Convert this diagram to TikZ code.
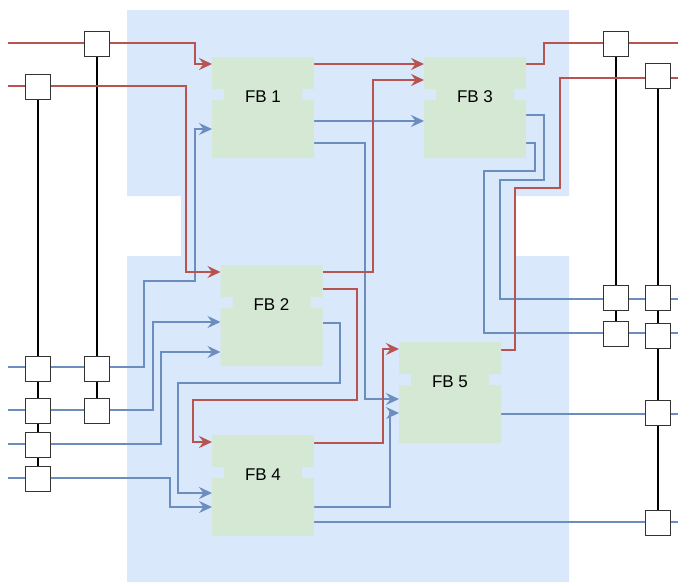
\documentclass[tikz,border=0pt]{standalone}
\usepackage{fontspec}
\setmainfont{Liberation Sans}
\usetikzlibrary{arrows.meta}
\definecolor{regionblue}{HTML}{DAE8FC}
\definecolor{fbgreen}{HTML}{D5E8D4}
\definecolor{wirered}{HTML}{B85450}
\definecolor{wireblue}{HTML}{6C8EBF}
\pgfdeclarelayer{bgfill}
\pgfdeclarelayer{wires}
\pgfsetlayers{bgfill,wires,main}
\tikzset{
  fbbox/.style={rectangle, minimum width=102pt, minimum height=101pt, inner sep=0pt, outer sep=0pt},
  fblabel/.style={inner sep=0pt, font=\fontsize{17}{20}\selectfont},
  sq/.style={rectangle, draw=black!80, fill=white, line width=1.2pt, minimum size=25pt, inner sep=0pt, outer sep=0pt},
  bus/.style={draw=black, line width=2.4pt},
  redw/.style={draw=wirered, line width=2.3pt},
  bluew/.style={draw=wireblue, line width=2.3pt},
  arr/.style={-{Stealth[length=13pt, width=12pt, inset=4.5pt]}},
}
\newcommand{\fbshape}[1]{%
  \fill[fbgreen] (#1.north west) -- ++(102,0) -- ++(0,32) -- ++(-12,0) -- ++(0,11) -- ++(12,0)
    -- (#1.south east) -- (#1.south west) -- ++(0,-58) -- ++(12,0) -- ++(0,-11) -- ++(-12,0) -- cycle;}
\begin{document}
\begin{tikzpicture}[x=1pt, y=-1pt]
\useasboundingbox (0,0) rectangle (678,582);
\begin{pgfonlayer}{bgfill}
  \fill[regionblue] (127,10) -- (569,10) -- (569,196) -- (516,196) -- (516,256) -- (569,256)
    -- (569,582) -- (127,582) -- (127,256) -- (181,256) -- (181,196) -- (127,196) -- cycle;
\end{pgfonlayer}

% function blocks
\node[fbbox] (fb1) at (263,107.5) {};
\node[fbbox] (fb2) at (271.5,315.5) {};
\node[fbbox] (fb3) at (475,107.5) {};
\node[fbbox] (fb4) at (263,485.5) {};
\node[fbbox] (fb5) at (450,392.5) {};
\fbshape{fb1}\fbshape{fb2}\fbshape{fb3}\fbshape{fb4}\fbshape{fb5}
\node[fblabel] (fb1l) at (263,97) {FB 1};
\node[fblabel] (fb2l) at (271.5,305) {FB 2};
\node[fblabel] (fb3l) at (475,97) {FB 3};
\node[fblabel] (fb4l) at (263,475) {FB 4};
\node[fblabel] (fb5l) at (450,382) {FB 5};

% free ends
\coordinate (inR1) at (8,43);
\coordinate (inR2) at (8,86);
\coordinate (inB1) at (8,367);
\coordinate (inB2) at (8,410);
\coordinate (inB3) at (8,444);
\coordinate (inB4) at (8,478);
\coordinate (outR1) at (678,43);
\coordinate (outR2) at (678,78);
\coordinate (outB1) at (678,299);
\coordinate (outB2) at (678,333);
\coordinate (outB3) at (678,414);
\coordinate (outB4) at (678,522);

% squares
\node[sq] (sA) at (97,44) {};
\node[sq] (sB) at (38,87) {};
\node[sq] (sL1a) at (38,369) {};
\node[sq] (sL1b) at (97,369) {};
\node[sq] (sL2a) at (38,411) {};
\node[sq] (sL2b) at (97,411) {};
\node[sq] (sL3) at (38,445) {};
\node[sq] (sL4) at (38,479) {};
\node[sq] (sR1) at (616,44) {};
\node[sq] (sR2) at (658,76) {};
\node[sq] (sR3) at (616,298) {};
\node[sq] (sR4) at (658,298) {};
\node[sq] (sR5) at (616,334) {};
\node[sq] (sR6) at (658,336) {};
\node[sq] (sR7) at (658,413) {};
\node[sq] (sR8) at (658,523) {};

\begin{pgfonlayer}{wires}
  % buses
  \draw[bus] (sB) -- (sL1a); \draw[bus] (sL1a) -- (sL2a); \draw[bus] (sL2a) -- (sL3); \draw[bus] (sL3) -- (sL4);
  \draw[bus] (sA) -- (sL1b); \draw[bus] (sL1b) -- (sL2b);
  \draw[bus] (sR1) -- (sR3); \draw[bus] (sR3) -- (sR5);
  \draw[bus] (sR2) -- (sR4); \draw[bus] (sR4) -- (sR6); \draw[bus] (sR6) -- (sR7); \draw[bus] (sR7) -- (sR8);

  % blue wires
  \draw[bluew, arr] (inB1) -| (144,281) -| (195,129) -- (fb1.west |- 0,129);
  \draw[bluew, arr] (inB2) -| (153,322) -- (fb2.west |- 0,322);
  \draw[bluew, arr] (inB3) -| (161,352) -- (fb2.west |- 0,352);
  \draw[bluew, arr] (inB4) -| (170,507) -- (fb4.west |- 0,507);
  \draw[bluew, arr] (fb2.east |- 0,323) -| (340,383) -| (178,493) -- (fb4.west |- 0,493);
  \draw[bluew, arr] (fb1.east |- 0,121) -- (fb3.west |- 0,121);
  \draw[bluew, arr] (fb1.east |- 0,143) -| (365,399) -- (fb5.west |- 0,399);
  \draw[bluew, arr] (fb4.east |- 0,507) -| (390,413) -- (fb5.west |- 0,413);
  \draw[bluew] (fb4.east |- 0,522) -- (outB4);
  \draw[bluew] (fb5.east |- 0,414) -- (outB3);
  \draw[bluew] (fb3.east |- 0,115) -| (544,180) -| (500,299) -- (outB1);
  \draw[bluew] (fb3.east |- 0,143) -| (535,171) -| (484,333) -- (outB2);

  % red wires
  \draw[redw, arr] (inR1) -| (195,64) -- (fb1.west |- 0,64);
  \draw[redw, arr] (inR2) -| (186,272) -- (fb2.west |- 0,272);
  \draw[redw, arr] (fb1.east |- 0,64) -- (fb3.west |- 0,64);
  \draw[redw, arr] (fb2.east |- 0,272) -| (373,80) -- (fb3.west |- 0,80);
  \draw[redw] (fb3.east |- 0,64) -| (544,43) -- (outR1);
  \draw[redw] (outR2) -| (560,188) -| (515,350) -- (fb5.east |- 0,350);
  \draw[redw, arr] (fb2.east |- 0,289) -| (357,400) -| (193,442) -- (fb4.west |- 0,442);
  \draw[redw, arr] (fb4.east |- 0,443) -| (383,349) -- (fb5.west |- 0,349);
\end{pgfonlayer}
\end{tikzpicture}
\end{document}
